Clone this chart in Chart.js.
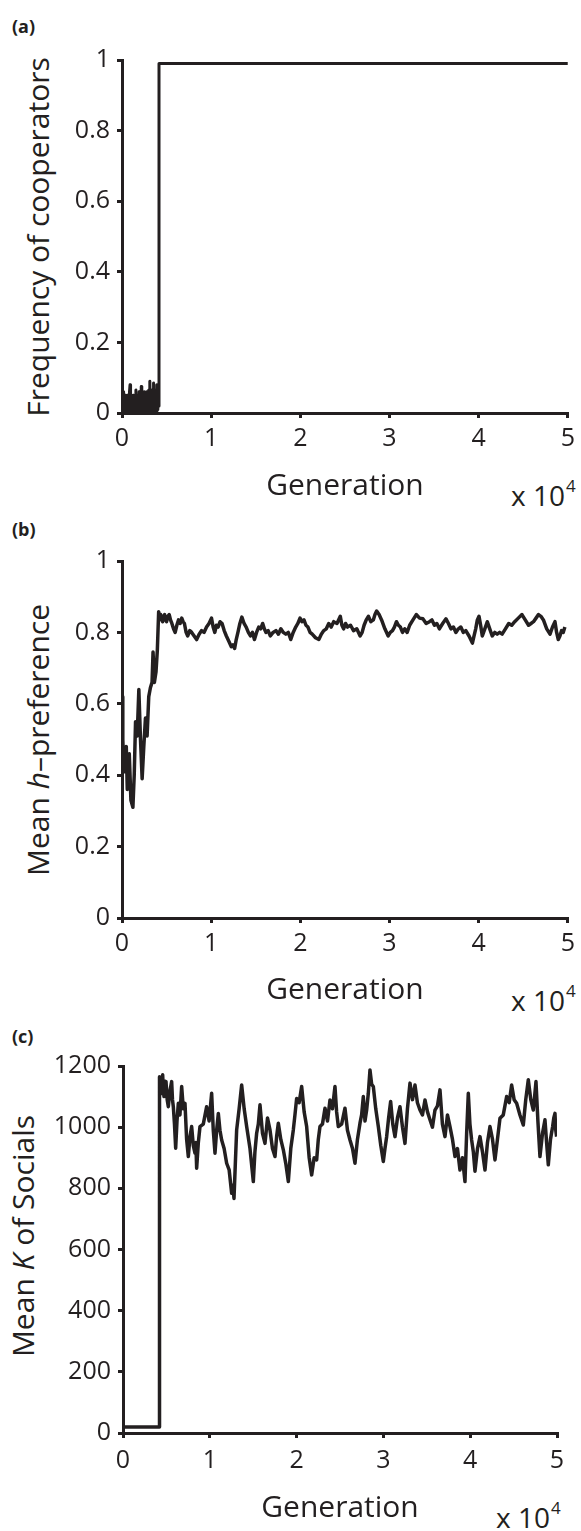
<!DOCTYPE html>
<html>
<head>
<meta charset="utf-8">
<title>Cooperation dynamics</title>
<script src="https://cdn.jsdelivr.net/npm/chart.js@4.4.1/dist/chart.umd.min.js"></script>
<style>
  html, body { margin: 0; padding: 0; background: #fff; }
  body { width: 581px; height: 1531px; position: relative; overflow: hidden;
         font-family: 'Open Sans', sans-serif; color: #231f20; }
  canvas { position: absolute; left: 0; }
  .plab { position: absolute; left: 12px; font-weight: 700; font-size: 18px; line-height: 1; }
  .ytitle { position: absolute; font-size: 30px; line-height: 1; white-space: nowrap;
            transform: translate(-50%, -50%) rotate(-90deg); }
  .expo { position: absolute; font-size: 28px; line-height: 1; white-space: nowrap; }
  .expo span { font-size: 17px; position: relative; top: -14px; margin-left: 1px; }
</style>
</head>
<body>

<div class="plab" style="top:17px">(a)</div>
<div class="plab" style="top:520px">(b)</div>
<div class="plab" style="top:1027px">(c)</div>

<div class="ytitle" style="left:38px; top:237px">Frequency of cooperators</div>
<div class="ytitle" style="left:38px; top:740px">Mean <i>h</i>–preference</div>
<div class="ytitle" style="left:23px; top:1236px">Mean <i>K</i> of Socials</div>

<div class="expo" style="left:511px; top:481px">x 10<span>4</span></div>
<div class="expo" style="left:511px; top:986px">x 10<span>4</span></div>
<div class="expo" style="left:496px; top:1503px">x 10<span>4</span></div>

<canvas id="chartA" width="581" height="530" style="top:0px"></canvas>
<canvas id="chartB" width="581" height="500" style="top:530px"></canvas>
<canvas id="chartC" width="581" height="501" style="top:1030px"></canvas>

<script>
const ink = '#231f20';

// ---- axes ----
const genTicks = [0, 10000, 20000, 30000, 40000, 50000];
const genTickLabels = ['0', '1', '2', '3', '4', '5'];
const unitTicks = [0, 0.2, 0.4, 0.6, 0.8, 1];
const unitTickLabels = ['0', '0.2', '0.4', '0.6', '0.8', '1'];
const kTicks = [0, 200, 400, 600, 800, 1000, 1200];
const kTickLabels = ['0', '200', '400', '600', '800', '1000', '1200'];

// ---- (a) frequency of cooperators ----
const genA = [0, 60, 120, 180, 240, 300, 360, 420, 480, 540, 600, 660, 720, 780, 840, 900,
  960, 1020, 1080, 1140, 1200, 1260, 1320, 1380, 1440, 1500, 1560, 1620, 1680, 1740, 1800,
  1860, 1920, 1980, 2040, 2100, 2160, 2220, 2280, 2340, 2400, 2460, 2520, 2580, 2640, 2700,
  2760, 2820, 2880, 2940, 3000, 3060, 3120, 3180, 3240, 3300, 3360, 3420, 3480, 3540, 3600,
  3660, 3720, 3780, 3840, 3900, 3960, 4020, 4080, 4150, 4150, 50000];
const coopFreq = [0.04, 0.0, 0.06, 0.01, 0.04, 0.0, 0.05, 0.01, 0.04, 0.0, 0.05, 0.01, 0.04, 0.0, 0.06, 0.08,
  0.01, 0.05, 0.0, 0.04, 0.01, 0.05, 0.0, 0.04, 0.01, 0.05, 0.065, 0.0, 0.04, 0.01, 0.05,
  0.0, 0.06, 0.01, 0.05, 0.0, 0.075, 0.01, 0.06, 0.0, 0.05, 0.01, 0.06, 0.0, 0.05, 0.01,
  0.06, 0.0, 0.05, 0.01, 0.065, 0.0, 0.09, 0.01, 0.06, 0.0, 0.065, 0.01, 0.06, 0.085, 0.0,
  0.06, 0.01, 0.065, 0.0, 0.08, 0.01, 0.065, 0.02, 0.02, 0.99, 0.99];

// ---- (b) mean h-preference ----
const genB = [0, 90, 222, 350, 481, 593, 700, 815, 1000, 1222, 1370, 1519, 1704, 1889, 2074,
  2259, 2444, 2630, 2815, 3000, 3185, 3370, 3481, 3630, 3815, 3963, 4111, 4222, 4333, 4444,
  4555, 4666, 4778, 4890, 5000, 5150, 5296, 5440, 5593, 5780, 5963, 6150, 6333, 6520, 6704,
  6850, 7000, 7190, 7370, 7600, 7815, 8090, 8370, 8650, 8926, 9200, 9481, 9760, 10037, 10220,
  10407, 10590, 10778, 11000, 11222, 11460, 11704, 11980, 12259, 12440, 12630, 12810, 13000,
  13220, 13444, 13690, 13926, 14170, 14407, 14630, 14852, 15090, 15333, 15550, 15778, 15960,
  16148, 16390, 16630, 16940, 17259, 17540, 17815, 18090, 18370, 18650, 18926, 19200, 19481,
  19720, 19963, 20180, 20407, 20630, 20852, 21090, 21333, 21700, 22074, 22350, 22630, 22910,
  23185, 23460, 23741, 24110, 24481, 24660, 24852, 25070, 25296, 25630, 25963, 26330, 26704,
  26930, 27148, 27390, 27630, 27910, 28185, 28370, 28556, 28830, 29111, 29480, 29852, 30090,
  30333, 30550, 30778, 31000, 31222, 31460, 31704, 31980, 32259, 32630, 33000, 33370, 33741,
  34110, 34481, 34760, 35037, 35310, 35593, 35960, 36333, 36610, 36889, 37170, 37444, 37720,
  38000, 38280, 38556, 38920, 39296, 39480, 39667, 39850, 40037, 40220, 40407, 40690, 40963,
  41240, 41519, 41800, 42074, 42350, 42630, 43000, 43370, 43700, 44037, 44440, 44852, 45220,
  45593, 45870, 46148, 46430, 46704, 46980, 47259, 47630, 48000, 48280, 48556, 48740, 48926,
  49110, 49296, 49480, 49667];
const hPref = [0.62, 0.50, 0.41, 0.47, 0.48, 0.36, 0.44, 0.46, 0.33, 0.31, 0.40, 0.55, 0.51, 0.64, 0.50,
  0.39, 0.48, 0.56, 0.51, 0.62, 0.645, 0.66, 0.745, 0.66, 0.69, 0.75, 0.858, 0.84, 0.85, 0.835,
  0.83, 0.845, 0.85, 0.835, 0.83, 0.845, 0.85, 0.835, 0.825, 0.81, 0.80, 0.82, 0.835, 0.825, 0.84,
  0.83, 0.825, 0.80, 0.79, 0.805, 0.80, 0.79, 0.78, 0.795, 0.805, 0.80, 0.815, 0.825, 0.84, 0.815,
  0.80, 0.82, 0.815, 0.83, 0.825, 0.805, 0.79, 0.775, 0.76, 0.765, 0.755, 0.78, 0.80,
  0.825, 0.843, 0.825, 0.815, 0.80, 0.79, 0.80, 0.78, 0.80, 0.815, 0.81, 0.825, 0.81,
  0.80, 0.805, 0.79, 0.80, 0.805, 0.795, 0.81, 0.80, 0.795, 0.80, 0.78, 0.80, 0.815,
  0.825, 0.84, 0.83, 0.835, 0.82, 0.815, 0.80, 0.795, 0.785, 0.78, 0.795, 0.805, 0.81,
  0.825, 0.815, 0.83, 0.825, 0.845, 0.82, 0.81, 0.825, 0.815, 0.82, 0.805, 0.81, 0.79,
  0.80, 0.82, 0.835, 0.845, 0.83, 0.835, 0.85, 0.86, 0.85, 0.835, 0.81, 0.79, 0.80,
  0.805, 0.815, 0.83, 0.82, 0.815, 0.80, 0.81, 0.80, 0.82, 0.835, 0.85, 0.84, 0.838,
  0.825, 0.83, 0.835, 0.82, 0.825, 0.81, 0.825, 0.838, 0.825, 0.81, 0.815, 0.80, 0.81,
  0.815, 0.80, 0.805, 0.79, 0.77, 0.79, 0.81, 0.835, 0.845, 0.82, 0.79, 0.81, 0.83,
  0.81, 0.79, 0.80, 0.795, 0.80, 0.795, 0.81, 0.825, 0.82, 0.83, 0.84, 0.85, 0.835,
  0.82, 0.825, 0.83, 0.84, 0.85, 0.845, 0.835, 0.81, 0.795, 0.815, 0.83, 0.80, 0.78,
  0.79, 0.805, 0.80, 0.815];

// ---- (c) mean K of socials ----
const genC = [0, 4150, 4150, 4206, 4262, 4416, 4570, 4650, 4723, 4840, 4954, 5090, 5222, 5410, 5606,
  5700, 5798, 5930, 6067, 6220, 6374, 6560, 6758, 6950, 7142, 7330, 7526, 7720, 7910, 8100, 8294,
  8390, 8486, 8680, 8870, 9250, 9638, 9920, 10214, 10400, 10598, 10790, 10982, 11170, 11366,
  11650, 11942, 12230, 12518, 12650, 12787, 12940, 13094, 13380, 13670, 13960, 14246, 14630,
  15014, 15200, 15398, 15590, 15782, 16070, 16358, 16650, 16934, 17220, 17510, 17700, 17894,
  18180, 18470, 18760, 19046, 19330, 19622, 19810, 20006, 20290, 20582, 20870, 21158, 21450,
  21734, 22020, 22310, 22500, 22694, 22980, 23270, 23560, 23846, 24130, 24422, 24610, 24806,
  25190, 25574, 25860, 26150, 26440, 26726, 27010, 27302, 27490, 27686, 27880, 28070, 28260,
  28454, 28650, 28838, 29120, 29414, 29700, 29990, 30180, 30374, 30600, 30835, 31080, 31334,
  31620, 31910, 32200, 32486, 32770, 33062, 33350, 33638, 33920, 34214, 34500, 34790, 35080,
  35366, 35650, 35942, 36230, 36518, 36800, 37094, 37380, 37670, 37960, 38246, 38530, 38822,
  39110, 39398, 39590, 39782, 39970, 40166, 40360, 40550, 40840, 41126, 41410, 41702, 41990,
  42278, 42570, 42854, 43140, 43430, 43810, 44198, 44490, 44774, 45060, 45350, 45730, 46118,
  46400, 46694, 46980, 47270, 47420, 47578, 47800, 48038, 48330, 48614, 48800, 48998, 49250,
  49498, 49630, 49766, 49860, 49958];
const meanK = [20, 20, 1130, 1090, 1165, 1110, 1171, 1120, 1100, 1150, 1149, 1090, 1067, 1120, 1149,
  1090, 1067, 1010, 931, 1020, 1078, 1040, 1133, 1060, 1078, 960, 904, 970, 1002, 940, 915,
  950, 866, 950, 1002, 1010, 1067, 1020, 1111, 990, 915, 990, 1045, 990, 958,
  930, 882, 860, 784, 810, 767, 880, 991, 1060, 1138, 1060, 1002, 930,
  822, 920, 980, 1010, 1073, 980, 947, 1030, 991, 930, 904, 970, 1013,
  960, 926, 880, 822, 930, 991, 1040, 1094, 1080, 1133, 1050, 1002, 900,
  844, 900, 893, 960, 1002, 1010, 1062, 1020, 1089, 1060, 1133, 1050, 1002,
  1010, 1062, 990, 958, 930, 882, 960, 1013, 1040, 1100, 1020, 1056, 1110,
  1187, 1140, 1133, 1060, 1002, 940, 888, 930, 969, 1030, 1084, 1010, 969,
  1030, 1067, 1000, 947, 1060, 1144, 1090, 1138, 1080, 1056, 1040, 1089, 1050,
  1024, 1000, 1056, 1070, 1122, 1010, 969, 1040, 1002, 960, 904, 930, 860,
  900, 822, 980, 1111, 1010, 958, 920, 856, 930, 969, 920, 860, 950,
  1002, 960, 893, 960, 1029, 1040, 1100, 1080, 1138, 1090, 1078, 1040, 1007,
  1090, 1155, 1090, 1056, 1100, 1149, 1020, 904, 980, 1024, 950, 877, 960,
  1002, 1030, 1045, 990, 969];

Chart.defaults.font.family = "'Open Sans', sans-serif";
Chart.defaults.color = ink;

function makePanel(id, p) {
  return new Chart(document.getElementById(id), {
    type: 'line',
    data: {
      datasets: [{
        data: p.x.map((g, i) => ({ x: g, y: p.y[i] })),
        borderColor: ink, borderWidth: p.lw, pointRadius: 0, tension: 0,
        borderJoinStyle: 'round', fill: false
      }]
    },
    options: {
      responsive: false, animation: false, devicePixelRatio: 1,
      layout: { padding: { top: p.top, right: p.right, left: 0, bottom: 0 } },
      plugins: { legend: { display: false }, tooltip: { enabled: false } },
      scales: {
        x: {
          type: 'linear', min: 0, max: 50000,
          afterBuildTicks: s => { s.ticks = genTicks.map(v => ({ value: v })); },
          afterFit: s => { s.height = p.xh; },
          ticks: { autoSkip: false, maxRotation: 0, padding: p.xpad, font: { size: 25 }, color: ink,
                   callback: (v, i) => genTickLabels[i] },
          grid: { drawOnChartArea: false, drawTicks: true, tickLength: 5, lineWidth: 3, color: ink },
          border: { display: true, color: ink, width: 3 },
          title: { display: true, text: 'Generation', font: { size: 30 }, color: ink,
                   padding: { top: 0, bottom: p.tpad } }
        },
        y: {
          type: 'linear', min: 0, max: p.ymax,
          afterBuildTicks: s => { s.ticks = p.yt.map(v => ({ value: v })); },
          afterFit: s => { s.width = p.left; },
          ticks: { autoSkip: false, padding: 7, font: { size: 25 }, color: ink,
                   callback: (v, i) => p.yl[i] },
          grid: { drawOnChartArea: false, drawTicks: true, tickLength: 5, lineWidth: 3, color: ink },
          border: { display: true, color: ink, width: 3 }
        }
      }
    }
  });
}

makePanel('chartA', { x: genA, y: coopFreq, yt: unitTicks, yl: unitTickLabels, ymax: 1,
  lw: 3, top: 60, right: 8, left: 122, xh: 117, xpad: 6, tpad: 26 });
makePanel('chartB', { x: genB, y: hPref, yt: unitTicks, yl: unitTickLabels, ymax: 1,
  lw: 3.5, top: 31, right: 8, left: 122, xh: 112, xpad: 6, tpad: 22 });
makePanel('chartC', { x: genC, y: meanK, yt: kTicks, yl: kTickLabels, ymax: 1200,
  lw: 3.5, top: 36, right: 24, left: 123, xh: 98, xpad: 8, tpad: 5 });
</script>
</body>
</html>
